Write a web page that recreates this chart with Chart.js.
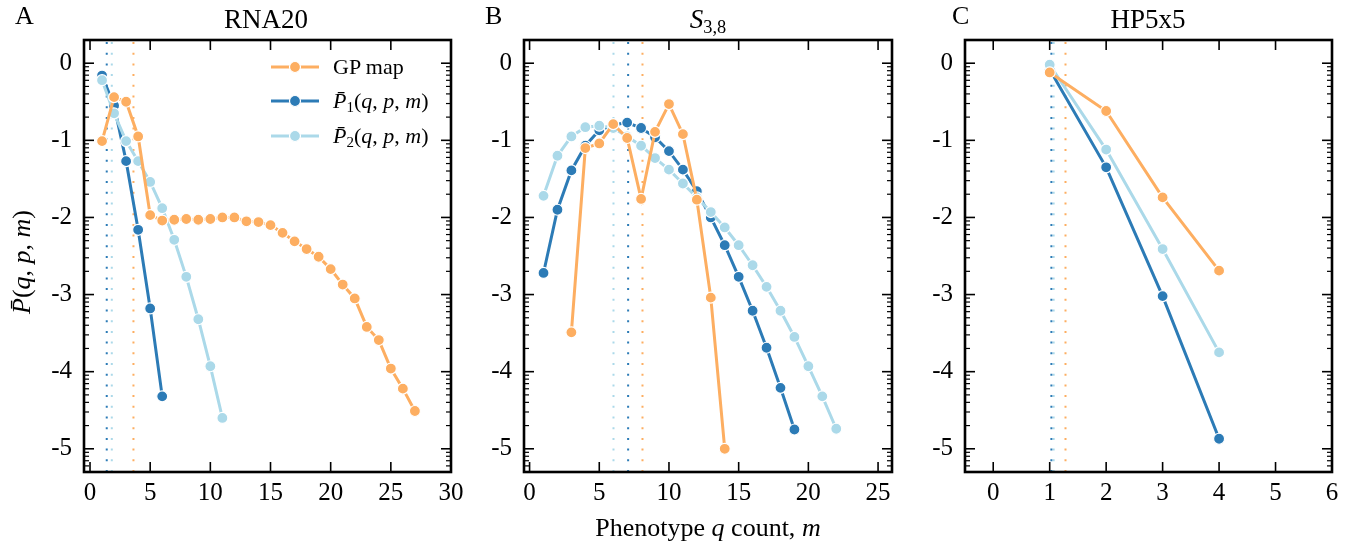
<!DOCTYPE html>
<html lang="en">
<head>
<meta charset="UTF-8" />
<title>Phenotype q count</title>
<script src="https://cdn.jsdelivr.net/npm/chart.js"></script>
<style>
  body { margin: 0; background: #fff; width: 1353px; height: 546px; position: relative; overflow: hidden;
         font-family: "Liberation Serif", "DejaVu Serif", serif; color: #000; }
  canvas { position: absolute; top: 0; }
  .txt { position: absolute; font-size: 26px; line-height: 1; white-space: nowrap; }
  .ttl { font-size: 27px; }
  .leg { font-size: 22px; }
  .mid { transform: translate(-50%, -50%); }
  .lft { transform: translate(0, -50%); }
  sub { font-size: 0.68em; vertical-align: baseline; position: relative; top: 0.25em; }
</style>
</head>
<body>
<canvas id="chartA" width="447" height="546" style="left:24px"></canvas>
<canvas id="chartB" width="448" height="546" style="left:464px"></canvas>
<canvas id="chartC" width="447" height="546" style="left:905px"></canvas>

<div class="txt lft" style="left:15px;top:16px">A</div>
<div class="txt lft" style="left:485px;top:16px">B</div>
<div class="txt lft" style="left:952px;top:16px">C</div>
<div class="txt ttl mid" style="left:266px;top:19px">RNA20</div>
<div class="txt ttl mid" style="left:708px;top:19px"><i>S</i><sub>3,8</sub></div>
<div class="txt ttl mid" style="left:1148px;top:19px">HP5x5</div>
<div class="txt mid" style="left:708px;top:528px">Phenotype <i>q</i> count, <i>m</i></div>
<div class="txt mid" style="left:22px;top:262px;transform:translate(-50%,-50%) rotate(-90deg)"><i>P&#772;</i>(<i>q</i>, <i>p</i>, <i>m</i>)</div>

<div class="txt leg lft" style="left:333px;top:67px">GP map</div>
<div class="txt leg lft" style="left:333px;top:101px"><i>P&#772;</i><sub>1</sub>(<i>q</i>, <i>p</i>, <i>m</i>)</div>
<div class="txt leg lft" style="left:333px;top:136px"><i>P&#772;</i><sub>2</sub>(<i>q</i>, <i>p</i>, <i>m</i>)</div>

<script>
  // values are log10 of P(q, p, m)
  const ORANGE = "#fdae61";
  const DARK = "#2c7bb6";
  const LIGHT = "#abd9e9";

  const yTicks = [0, -1, -2, -3, -4, -5];
  const Y_MIN = 5e-6;
  const Y_MAX = 2;

  //! A: RNA20
  const mGpA = [1, 2, 3, 4, 5, 6, 7, 8, 9, 10, 11, 12, 13, 14, 15, 16, 17, 18, 19, 20, 21, 22, 23, 24, 25, 26, 27];
  const gpA = [-1.01, -0.44, -0.5, -0.95, -1.97, -2.04, -2.03, -2.02, -2.03, -2.02, -2.0, -2.0, -2.05, -2.06,
    -2.1, -2.2, -2.31, -2.41, -2.51, -2.67, -2.87, -3.05, -3.42, -3.59, -3.96, -4.22, -4.51];
  const mP1A = [1, 2, 3, 4, 5, 6];
  const p1A = [-0.16, -0.55, -1.27, -2.16, -3.18, -4.32];
  const mP2A = [1, 2, 3, 4, 5, 6, 7, 8, 9, 10, 11];
  const p2A = [-0.22, -0.65, -1.01, -1.27, -1.54, -1.88, -2.29, -2.77, -3.32, -3.93, -4.6];
  const meanA = [3.61, 1.39, 1.81]; // GP, P1, P2
  const xTicksA = [0, 5, 10, 15, 20, 25, 30];

  //! B: S_3,8
  const mGpB = [3, 4, 5, 6, 7, 8, 9, 10, 11, 12, 13, 14];
  const gpB = [-3.49, -1.1, -1.04, -0.79, -0.97, -1.76, -0.89, -0.53, -0.92, -1.77, -3.04, -5.0];
  const mP1B = [1, 2, 3, 4, 5, 6, 7, 8, 9, 10, 11, 12, 13, 14, 15, 16, 17, 18, 19];
  const p1B = [-2.72, -1.9, -1.39, -1.07, -0.87, -0.8, -0.77, -0.84, -0.96, -1.14, -1.38, -1.66, -2.0,
    -2.36, -2.77, -3.21, -3.69, -4.21, -4.75];
  const mP2B = [1, 2, 3, 4, 5, 6, 7, 8, 9, 10, 11, 12, 13, 14, 15, 16, 17, 18, 19, 20, 21, 22];
  const p2B = [-1.72, -1.2, -0.95, -0.83, -0.81, -0.84, -0.95, -1.07, -1.23, -1.38, -1.56, -1.74, -1.93,
    -2.13, -2.36, -2.62, -2.9, -3.21, -3.55, -3.93, -4.32, -4.74];
  const meanB = [8.1, 7.07, 6.02];
  const xTicksB = [0, 5, 10, 15, 20, 25];

  //! C: HP5x5
  const mC = [1, 2, 3, 4];
  const gpC = [-0.12, -0.62, -1.74, -2.69];
  const p1C = [-0.08, -1.35, -3.02, -4.87];
  const p2C = [-0.02, -1.12, -2.41, -3.75];
  const meanC = [1.28, 1.03, 1.07];
  const xTicksC = [0, 1, 2, 3, 4, 5, 6];

  const tickFont = { family: "'Liberation Serif', serif", size: 25 };

  function line(ctx, x1, y1, x2, y2) {
    ctx.beginPath();
    ctx.moveTo(x1, y1);
    ctx.lineTo(x2, y2);
    ctx.stroke();
  }

  // inward ticks on all four sides + box
  const framePlugin = {
    id: "frame",
    afterDraw(chart) {
      const { ctx, chartArea: a } = chart;
      const x = chart.scales.x, y = chart.scales.y;
      ctx.save();
      ctx.strokeStyle = "#000";
      ctx.lineWidth = 1.6;
      x.ticks.forEach((t) => {
        const px = x.getPixelForValue(t.value);
        line(ctx, px, a.bottom, px, a.bottom - 10);
        line(ctx, px, a.top, px, a.top + 10);
      });
      y.ticks.forEach((t) => {
        const py = y.getPixelForValue(t.value);
        line(ctx, a.left, py, a.left + 10, py);
        line(ctx, a.right, py, a.right - 10, py);
      });
      ctx.lineWidth = 1.2;
      for (let e = -6; e <= 0; e++) {
        for (let k = 2; k <= 9; k++) {
          const v = k * Math.pow(10, e);
          if (v <= Y_MIN || v >= Y_MAX) continue;
          const py = y.getPixelForValue(v);
          line(ctx, a.left, py, a.left + 5, py);
          line(ctx, a.right, py, a.right - 5, py);
        }
      }
      ctx.lineWidth = 2.6;
      ctx.strokeRect(a.left, a.top, a.right - a.left, a.bottom - a.top);
      ctx.restore();
    },
  };

  // legend samples (text is in the page)
  const legendPlugin = {
    id: "legendSamples",
    afterDraw(chart) {
      const ctx = chart.ctx;
      const rows = [[ORANGE, 67], [DARK, 101], [LIGHT, 136]];
      ctx.save();
      rows.forEach(([c, ry]) => {
        ctx.strokeStyle = c;
        ctx.lineWidth = 3;
        line(ctx, 247, ry, 295, ry);
        ctx.beginPath();
        ctx.arc(271, ry, 5.5, 0, Math.PI * 2);
        ctx.fillStyle = c;
        ctx.fill();
        ctx.strokeStyle = "#fff";
        ctx.lineWidth = 1.2;
        ctx.stroke();
      });
      ctx.restore();
    },
  };

  function series(ms, vals, color, order) {
    return {
      data: ms.map((m, i) => ({ x: m, y: Math.pow(10, vals[i]) })),
      borderColor: color,
      backgroundColor: color,
      pointBackgroundColor: color,
      pointBorderColor: "#fff",
      pointBorderWidth: 1.2,
      pointRadius: 5.5,
      borderWidth: 3,
      tension: 0,
      order: order,
    };
  }

  function meanLine(v, color) {
    return {
      data: [{ x: v, y: Y_MIN }, { x: v, y: Y_MAX }],
      borderColor: color,
      borderWidth: 2,
      borderDash: [2, 8.7],
      pointRadius: 0,
      order: 10,
    };
  }

  function makePanel(id, xMin, xMax, xTicks, datasets, extra) {
    return new Chart(document.getElementById(id), {
      type: "line",
      data: { datasets: datasets },
      plugins: [framePlugin].concat(extra || []),
      options: {
        responsive: false,
        animation: false,
        events: [],
        layout: { padding: { left: 0, right: 20, top: 40, bottom: 34 } },
        plugins: { legend: { display: false }, tooltip: { enabled: false } },
        scales: {
          x: {
            type: "linear",
            min: xMin,
            max: xMax,
            grid: { display: false, drawTicks: false },
            border: { display: false },
            ticks: { font: tickFont, color: "#000", padding: 6, maxRotation: 0, autoSkip: false },
            afterBuildTicks: (s) => { s.ticks = xTicks.map((v) => ({ value: v })); },
            afterFit: (s) => { s.height = 40; s.paddingLeft = 0; s.paddingRight = 0; },
          },
          y: {
            type: "logarithmic",
            min: Y_MIN,
            max: Y_MAX,
            grid: { display: false, drawTicks: false },
            border: { display: false },
            ticks: {
              font: tickFont,
              color: "#000",
              padding: 12,
              autoSkip: false,
              callback: (v) => String(Math.round(Math.log10(v))),
            },
            afterBuildTicks: (s) => { s.ticks = yTicks.map((e) => ({ value: Math.pow(10, e) })); },
            afterFit: (s) => { s.width = 60; s.paddingTop = 0; s.paddingBottom = 0; },
          },
        },
      },
    });
  }

  makePanel("chartA", -0.5, 30, xTicksA, [
    series(mGpA, gpA, ORANGE, 0),
    series(mP2A, p2A, LIGHT, 1),
    series(mP1A, p1A, DARK, 2),
    meanLine(meanA[0], ORANGE),
    meanLine(meanA[1], DARK),
    meanLine(meanA[2], LIGHT),
  ], [legendPlugin]);

  makePanel("chartB", -0.4, 26, xTicksB, [
    series(mGpB, gpB, ORANGE, 0),
    series(mP2B, p2B, LIGHT, 1),
    series(mP1B, p1B, DARK, 2),
    meanLine(meanB[0], ORANGE),
    meanLine(meanB[1], DARK),
    meanLine(meanB[2], LIGHT),
  ]);

  makePanel("chartC", -0.5, 6, xTicksC, [
    series(mC, gpC, ORANGE, 0),
    series(mC, p2C, LIGHT, 1),
    series(mC, p1C, DARK, 2),
    meanLine(meanC[0], ORANGE),
    meanLine(meanC[1], DARK),
    meanLine(meanC[2], LIGHT),
  ]);
</script>
</body>
</html>
